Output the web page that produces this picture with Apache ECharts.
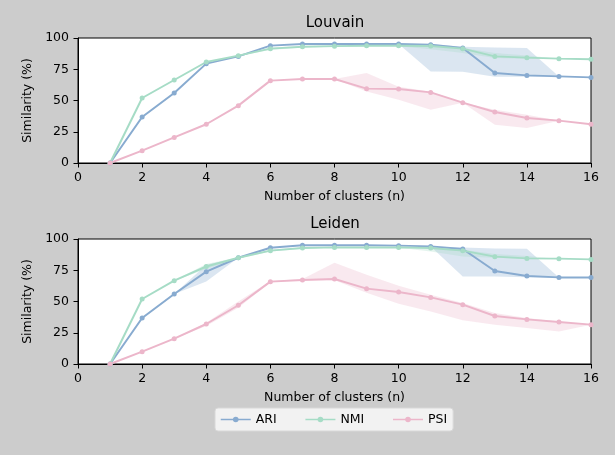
<!DOCTYPE html>
<html><head><meta charset="utf-8">
<script src="https://cdn.jsdelivr.net/npm/echarts@6/dist/echarts.min.js"></script>
<style>html,body{margin:0;padding:0;background:#cccccc}#c{width:615px;height:455px}</style>
</head><body><div id="c"></div>
<script>
const nClusters = [1,2,3,4,5,6,7,8,9,10,11,12,13,14,15,16];
const xTicks = [0,2,4,6,8,10,12,14,16];
const yTicks = [0,25,50,75,100];
const panelTitles = ['Louvain','Leiden'];
const seriesNames = ['ARI','NMI','PSI'];

// Louvain
const louvainARI   = [0,36.8,56,79.5,85.3,93.9,95.2,95.2,95.2,95.2,94.7,92,72,70.1,69.3,68.5];
const louvainARILo = [0,36.8,56,79.5,85.3,93.9,95.2,95.2,95.2,95.2,73.3,73,69,69,69.3,68.5];
const louvainARIHi = [0,36.8,56,79.5,85.3,93.9,95.2,95.2,95.2,95.2,95.2,93,92.5,92,69.3,68.5];
const louvainNMI   = [0,52,66.4,80.8,85.9,91.5,93,93.5,93.8,93.8,93.6,91.5,85.3,84.3,83.5,83];
const louvainNMILo = [0,52,66.4,80.8,85.9,90.5,92.5,93,93.5,93.5,91,88,84,83.5,83.5,83];
const louvainNMIHi = [0,52,66.4,80.8,85.9,92.5,93.5,94,94,94,94,92,88,86,83.5,83];
const louvainPSI   = [0,9.9,20.5,31,45.9,65.9,67.2,67.2,59.5,59.2,56.5,48.3,40.8,36,33.9,31];
const louvainPSILo = [0,9.9,20.5,31,45.9,65.9,67.2,67.2,57.3,50.7,42.7,48.3,30.7,28,33.9,31];
const louvainPSIHi = [0,9.9,20.5,31,45.9,65.9,67.2,67.2,72,61,57,48.3,42.7,38.7,33.9,31];

// Leiden
const leidenARI   = [0,36.8,56,73.9,85,93,95,95,95,94.7,94.1,92,74.4,70.4,69.3,69.3];
const leidenARILo = [0,36.8,56,66,85,93,95,95,95,94.7,94.1,70,70,69.5,69.3,69.3];
const leidenARIHi = [0,36.8,56,79.5,85,93,95,95,95,94.7,94.1,93.3,92.5,92.3,69.3,69.3];
const leidenNMI   = [0,52,66.7,78,85,90.7,92.8,93.3,93.3,93.3,92.8,90.7,85.9,84.5,84.3,83.7];
const leidenNMILo = [0,52,66.7,76,84.5,90,92.3,93,93,93,90,86,85,84.3,84.3,83.7];
const leidenNMIHi = [0,52,66.7,80,85.5,91.5,93.3,93.8,93.8,93.8,93.3,91.5,88,86.5,84.3,83.7];
const leidenPSI   = [0,9.9,20.3,32,47,65.9,67.2,68,60.3,57.6,53.3,47.5,38.4,35.7,33.6,31.5];
const leidenPSILo = [0,9.9,20.3,30.5,45,65.5,67,67,57,48.3,42,35,31.5,28.8,26,31.5];
const leidenPSIHi = [0,9.9,20.3,33,50,66.5,68,81,71.5,62.7,55.5,48.8,40.8,36.8,34,31.5];

const colors = ['#88abd0','#a6dcc6','#ecb6ca'];

const panels = [
  [[louvainARI,louvainARILo,louvainARIHi],[louvainNMI,louvainNMILo,louvainNMIHi],[louvainPSI,louvainPSILo,louvainPSIHi]],
  [[leidenARI,leidenARILo,leidenARIHi],[leidenNMI,leidenNMILo,leidenNMIHi],[leidenPSI,leidenPSILo,leidenPSIHi]]
];

const font = 'DejaVu Sans';
const fs = 12.5;
const grids = [
  {left:78, right:24, top:38, height:125, show:true, backgroundColor:'#fff', borderColor:'#000', borderWidth:1},
  {left:78, right:24, top:239, height:125, show:true, backgroundColor:'#fff', borderColor:'#000', borderWidth:1}
];
const xAxes = grids.map((g,i)=>({
  type:'value', gridIndex:i, min:0, max:16, interval:2,
  name:'Number of clusters (n)', nameLocation:'middle', nameGap:27,
  nameTextStyle:{color:'#000', fontSize:fs, fontFamily:font},
  axisLine:{lineStyle:{color:'#000'}}, axisTick:{show:true, length:4.5, lineStyle:{color:'#000'}},
  axisLabel:{color:'#000', fontSize:fs, fontFamily:font, margin:8, formatter:v=>xTicks.includes(v)?String(v):''},
  splitLine:{show:false}
}));
const yAxes = grids.map((g,i)=>({
  type:'value', gridIndex:i, min:0, max:100, interval:25,
  name:'Similarity (%)', nameLocation:'middle', nameGap:40,
  nameTextStyle:{color:'#000', fontSize:fs, fontFamily:font},
  axisLine:{show:true, lineStyle:{color:'#000'}}, axisTick:{show:true, length:4.5, lineStyle:{color:'#000'}},
  axisLabel:{color:'#000', fontSize:fs, fontFamily:font, margin:9, formatter:v=>yTicks.includes(v)?String(v):''},
  splitLine:{show:false}
}));

function bandRenderer(color){
  return function(params, api){
    if (params.dataIndex !== 0) return null;
    const upper = [], lower = [];
    for (let k=0;k<nClusters.length;k++){
      upper.push(api.coord([api.value(0,k), api.value(2,k)]));
      lower.push(api.coord([api.value(0,k), api.value(1,k)]));
    }
    const pts = upper.concat(lower.reverse());
    return {type:'polygon', shape:{points:pts}, style:{fill:color, opacity:0.3}, silent:true};
  };
}

const series = [];
panels.forEach((panel,pi)=>{
  panel.forEach((arrs,si)=>{
    const [val,lo,hi] = arrs;
    series.push({
      type:'custom', xAxisIndex:pi, yAxisIndex:pi, silent:true, z:1, clip:true,
      data:nClusters.map((n,k)=>[n,lo[k],hi[k]]),
      encode:{x:0, y:[1,2]},
      renderItem:bandRenderer(colors[si])
    });
  });
  panel.forEach((arrs,si)=>{
    series.push({
      name:seriesNames[si], type:'line', xAxisIndex:pi, yAxisIndex:pi,
      data:nClusters.map((n,k)=>[n,arrs[0][k]]),
      symbol:'circle', symbolSize:5, showSymbol:true,
      itemStyle:{color:colors[si]}, lineStyle:{color:colors[si], width:2}, z:3
    });
  });
});

const chart = echarts.init(document.getElementById('c'), null, {renderer:'canvas'});
chart.setOption({
  backgroundColor:'#cccccc',
  animation:false,
  color:colors,
  title:[
    {text:panelTitles[0], left:335, top:16, textAlign:'center', padding:0, textStyle:{fontSize:15, fontWeight:'normal', color:'#000', fontFamily:font}},
    {text:panelTitles[1], left:335, top:217, textAlign:'center', padding:0, textStyle:{fontSize:15, fontWeight:'normal', color:'#000', fontFamily:font}}
  ],
  grid:grids, xAxis:xAxes, yAxis:yAxes,
  legend:{
    data:seriesNames,
    left:215, top:408, orient:'horizontal',
    backgroundColor:'#f2f2f2', borderColor:'#d8d8d8', borderWidth:1, borderRadius:3,
    padding:[5,6,5,5], itemGap:28, itemWidth:30, itemHeight:7,
    lineStyle:{width:1.5},
    textStyle:{fontSize:fs, color:'#000', fontFamily:font}
  },
  series:series
});
</script></body></html>
